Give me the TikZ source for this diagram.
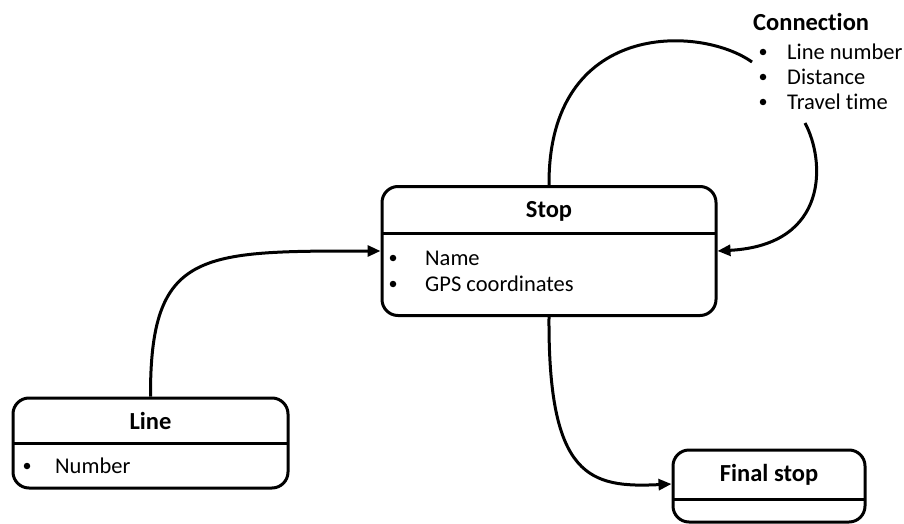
\documentclass[tikz,border=0pt]{standalone}
\usepackage{fontspec}
\setmainfont{Carlito}[Ligatures=NoCommon]
\usetikzlibrary{arrows.meta}

\tikzset{
  entity/.style={draw, line width=3pt, rounded corners=16pt, inner sep=0pt},
  divider/.style={line width=3pt},
  link/.style={line width=3pt},
  linkarrow/.style={link, -{Triangle[length=13pt,width=11pt]}},
  title/.style={font=\fontsize{24.5}{28}\selectfont\bfseries, inner sep=0pt},
  item/.style={font=\fontsize{22.5}{26}\selectfont, inner sep=0pt, anchor=west},
  dot/.style={circle, fill, inner sep=0pt, minimum size=6.5pt},
}

\begin{document}
\begin{tikzpicture}[x=1pt, y=-1pt]
  \useasboundingbox (0,0) rectangle (904,524);

  % Stop entity
  \node[entity, minimum width=334pt, minimum height=129pt] (stop) at (549,251) {};
  \draw[divider] (382,233) -- (716,233);
  \node[title] (stoptitle) at (549,211) {Stop};
  \node[dot] (stopdot1) at (393,258) {};
  \node[item] (stopname) at (425,258) {Name};
  \node[dot] (stopdot2) at (393,284) {};
  \node[item] (stopgps) at (425,284) {GPS coordinates};

  % Line entity
  \node[entity, minimum width=275pt, minimum height=90pt] (line) at (150.5,443) {};
  \draw[divider] (13,443) -- (288,443);
  \node[title] (linetitle) at (150.5,421) {Line};
  \node[dot] (linedot) at (27,466) {};
  \node[item] (linenum) at (55,466) {Number};

  % Final stop entity
  \node[entity, minimum width=192pt, minimum height=72pt] (final) at (769,486) {};
  \draw[divider] (673,499) -- (865,499);
  \node[title] (finaltitle) at (769,475) {Final stop};

  % Connection attributes
  \node[title, anchor=west] (conntitle) at (753,22) {Connection};
  \node[dot] (conndot1) at (763,52) {};
  \node[item] (connline) at (787,52) {Line number};
  \node[dot] (conndot2) at (763,77) {};
  \node[item] (conndist) at (787,77) {Distance};
  \node[dot] (conndot3) at (763,102) {};
  \node[item] (conntime) at (787,102) {Travel time};
  \coordinate (connin) at (752,62);
  \coordinate (connout) at (805,123);

  % Relations
  \draw[linkarrow] (line.north) .. controls (150,250) and (200,251) .. (stop.west);
  \draw[link] (stop.north) .. controls (548,20) and (700,25) .. (connin);
  \draw[linkarrow] (connout) .. controls (825,160) and (830,245) .. (stop.east);
  \draw[linkarrow] (stop.south) .. controls (548,478) and (590,488) .. ([yshift=2pt]final.west);
\end{tikzpicture}
\end{document}
